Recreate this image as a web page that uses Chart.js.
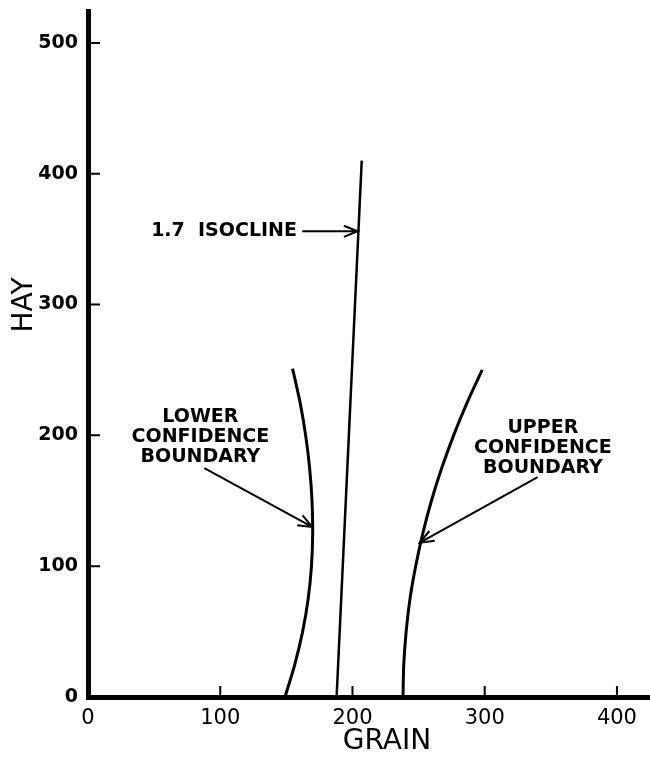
<!DOCTYPE html>
<html>
<head>
<meta charset="utf-8">
<script src="https://cdn.jsdelivr.net/npm/chart.js@4.4.1/dist/chart.umd.min.js"></script>
<style>
  html, body { margin: 0; padding: 0; background: #fff; }
  #wrap { width: 650px; height: 760px; position: relative; }
</style>
</head>
<body>
<div id="wrap"><canvas id="chart"></canvas></div>
<script>
// Axis ranges and tick values
const grainRange = [0, 425];
const hayRange = [0, 524];
const grainTicks = [100, 200, 300, 400];
const hayTicks = [100, 200, 300, 400, 500];

// 1.7 isocline (straight line)
const isoGrain = [188, 207];
const isoHay = [0, 410];

// Lower confidence boundary
const lowerGrain = [149, 156.4, 162.3, 166.5, 169, 169.9, 169.4, 167.6, 164.6, 160.4, 154.7];
const lowerHay = [0, 25, 50, 75, 100, 125, 150, 175, 200, 225, 251];

// Upper confidence boundary
const upperGrain = [238.2, 238.8, 240.6, 243.5, 247.8, 253.2, 259.7, 267.5, 276.5, 286.7, 298.1];
const upperHay = [0, 25, 50, 75, 100, 125, 150, 175, 200, 225, 250];

// Labels with arrows: text anchor and arrow from -> to, in data units
const notes = [
  { lines: ['1.7  ISOCLINE'], at: [158, 356], align: 'right', from: [162, 356], to: [204, 356] },
  { lines: ['LOWER', 'CONFIDENCE', 'BOUNDARY'], at: [85, 199], align: 'center', from: [88, 175], to: [169.5, 130] },
  { lines: ['UPPER', 'CONFIDENCE', 'BOUNDARY'], at: [344, 190], align: 'center', from: [340, 168], to: [251, 118] }
];

const toPoints = (xs, ys) => xs.map((x, i) => ({ x: x, y: ys[i] }));

const insideTicks = {
  id: 'insideTicks',
  afterDraw(chart) {
    const { ctx, chartArea, scales } = chart;
    ctx.save();
    ctx.strokeStyle = '#000';
    ctx.lineWidth = 2;
    ctx.beginPath();
    grainTicks.forEach(v => {
      const px = scales.x.getPixelForValue(v);
      ctx.moveTo(px, chartArea.bottom);
      ctx.lineTo(px, chartArea.bottom - 11);
    });
    hayTicks.forEach(v => {
      const py = scales.y.getPixelForValue(v);
      ctx.moveTo(chartArea.left, py);
      ctx.lineTo(chartArea.left + 12, py);
    });
    ctx.stroke();

    // axis titles
    ctx.fillStyle = '#000';
    ctx.font = '28px "DejaVu Sans"';
    ctx.textAlign = 'center';
    ctx.textBaseline = 'middle';
    ctx.fillText('GRAIN', 387, 742);
    ctx.save();
    ctx.translate(25, 305);
    ctx.rotate(-Math.PI / 2);
    ctx.fillText('HAY', 0, 0);
    ctx.restore();
    ctx.restore();
  }
};

const arrowNotes = {
  id: 'arrowNotes',
  afterDraw(chart) {
    const { ctx, scales } = chart;
    ctx.save();
    ctx.fillStyle = '#000';
    ctx.strokeStyle = '#000';
    ctx.font = 'bold 19px "DejaVu Sans"';
    ctx.textBaseline = 'middle';
    notes.forEach(n => {
      const tx = scales.x.getPixelForValue(n.at[0]);
      const ty = scales.y.getPixelForValue(n.at[1]);
      ctx.textAlign = n.align;
      const step = 20;
      const y0 = ty - step * (n.lines.length - 1) / 2;
      n.lines.forEach((s, i) => ctx.fillText(s, tx, y0 + i * step));

      const x1 = scales.x.getPixelForValue(n.from[0]);
      const y1 = scales.y.getPixelForValue(n.from[1]);
      const x2 = scales.x.getPixelForValue(n.to[0]);
      const y2 = scales.y.getPixelForValue(n.to[1]);
      const ang = Math.atan2(y2 - y1, x2 - x1);
      const head = 15, spread = 0.38;
      ctx.lineWidth = 2;
      ctx.beginPath();
      ctx.moveTo(x1, y1);
      ctx.lineTo(x2, y2);
      ctx.moveTo(x2 - head * Math.cos(ang - spread), y2 - head * Math.sin(ang - spread));
      ctx.lineTo(x2, y2);
      ctx.lineTo(x2 - head * Math.cos(ang + spread), y2 - head * Math.sin(ang + spread));
      ctx.stroke();
    });
    ctx.restore();
  }
};

const lineStyle = { showLine: true, pointRadius: 0, borderColor: '#000', backgroundColor: '#000', fill: false };

new Chart(document.getElementById('chart'), {
  type: 'scatter',
  data: {
    datasets: [
      { ...lineStyle, data: toPoints(isoGrain, isoHay), borderWidth: 2.5, tension: 0 },
      { ...lineStyle, data: toPoints(lowerGrain, lowerHay), borderWidth: 3, tension: 0.3 },
      { ...lineStyle, data: toPoints(upperGrain, upperHay), borderWidth: 3, tension: 0.3 }
    ]
  },
  options: {
    responsive: true,
    maintainAspectRatio: false,
    animation: false,
    layout: { padding: { top: 10, right: 0, bottom: 0, left: 0 } },
    plugins: { legend: { display: false }, tooltip: { enabled: false } },
    scales: {
      x: {
        type: 'linear',
        min: grainRange[0],
        max: grainRange[1],
        afterFit: s => { s.height = 63; },
        grid: { display: false },
        border: { display: true, width: 5, color: '#000' },
        ticks: {
          stepSize: 100,
          includeBounds: false,
          color: '#000',
          padding: 3,
          maxRotation: 0,
          font: { family: 'DejaVu Sans', size: 21, lineHeight: 1 }
        }
      },
      y: {
        type: 'linear',
        min: hayRange[0],
        max: hayRange[1],
        afterFit: s => { s.width = 88; },
        grid: { display: false },
        border: { display: true, width: 5, color: '#000' },
        ticks: {
          stepSize: 100,
          includeBounds: false,
          color: '#000',
          padding: 2,
          font: { family: 'DejaVu Sans', size: 19, weight: 'bold', lineHeight: 1 }
        }
      }
    }
  },
  plugins: [insideTicks, arrowNotes]
});
</script>
</body>
</html>
